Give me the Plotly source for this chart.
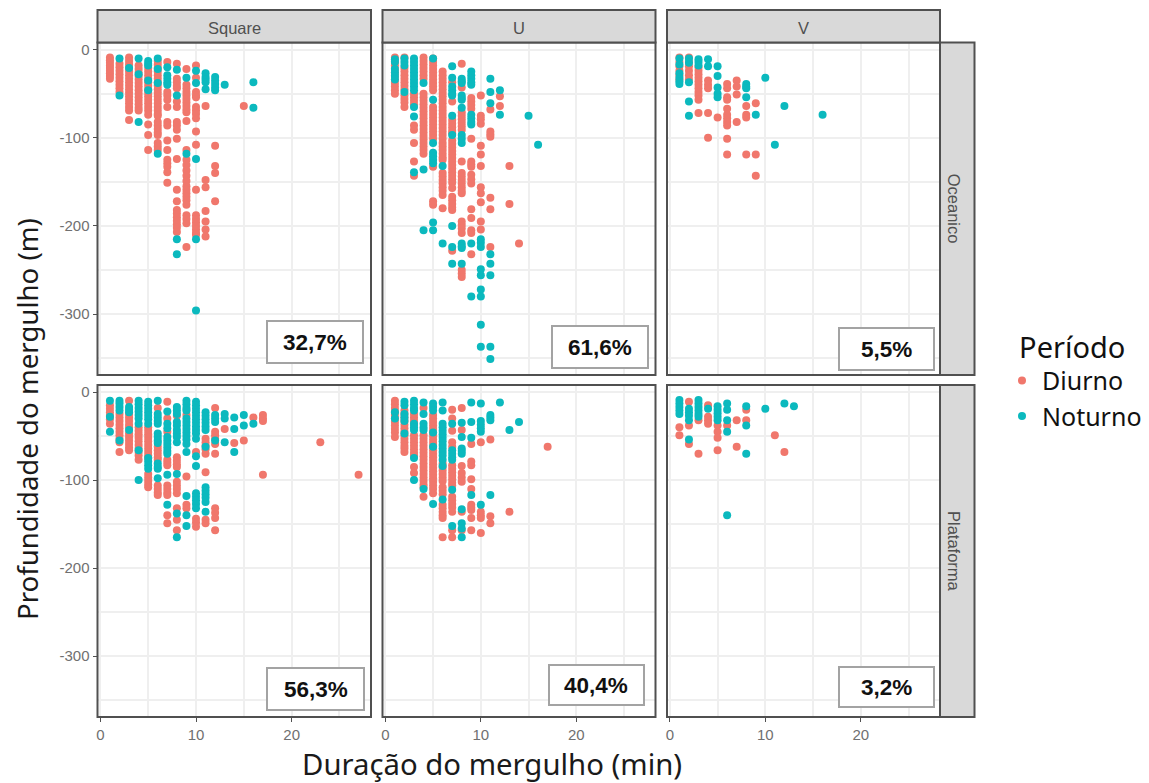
import plotly.graph_objects as go

W, H = 1149, 783
COLS = ["Square", "U", "V"]
ROWS = ["Oceanico", "Plataforma"]
PERCENT = [["32,7%", "61,6%", "5,5%"], ["56,3%", "40,4%", "3,2%"]]
Y_TICKS = [0, -100, -200, -300]
Y_TICK_TEXT = ["0", "-100", "-200", "-300"]
X_TICKS = [0, 10, 20]
X_TICK_TEXT = ["0", "10", "20"]
C_DIURNO = "#F0776C"
C_NOTURNO = "#0BB9BE"

# duration (min) -> depths (m)
SQ_OCE_D = {
 1: [-9,-12,-15,-18,-21,-24,-27,-30,-33],
 2: [-16,-20,-24,-28,-32,-36,-40,-44,-48],
 3: [-9,-13,-17,-21,-25,-29,-33,-37,-41,-45,-49,-53,-57,-61,-65,-69,-80],
 4: [-18,-22,-26,-30,-34,-38,-42,-46,-50,-54,-58,-62,-66,-69],
 5: [-21,-25,-29,-33,-37,-41,-45,-49,-53,-57,-61,-65,-69,-74,-85,-97,-114],
 6: [-13,-17,-21,-25,-29,-33,-37,-41,-45,-49,-53,-57,-61,-65,-69,-73,-75,-82,-86,-90,-94,-97,-106,-110,-114],
 7: [-14,-48,-52,-57,-65,-82,-86,-103,-114,-125,-129,-133,-139,-151],
 8: [-16,-33,-37,-41,-44,-59,-65,-82,-86,-91,-101,-124,-159,-172,-182,-186,-190,-194,-198,-202,-207],
 9: [-22,-40,-44,-48,-52,-56,-60,-64,-68,-71,-81,-114,-125,-131,-137,-143,-149,-155,-159,-163,-167,-171,-176,-188,-192,-197,-224],
 10: [-18,-32,-48,-52,-54,-65,-69,-73,-78,-93,-108,-159,-188,-192,-196,-200,-204,-208,-210],
 11: [-64,-148,-156,-183,-195,-204,-212],
 12: [-109,-132,-140,-172],
 15: [-64],
}
SQ_OCE_N = {
 2: [-10,-52],
 3: [-21],
 4: [-10,-28,-82],
 5: [-13,-16,-18,-35,-46],
 6: [-10,-22,-38,-118],
 7: [-20,-29,-33,-37,-40],
 8: [-23,-52,-215,-232],
 9: [-32,-118],
 10: [-24,-38,-124,-215,-296],
 11: [-27,-31,-34,-37,-45],
 12: [-31,-35,-39,-43,-46],
 13: [-40],
 16: [-37,-66],
}
U_OCE_D = {
 1: [-9,-14,-18,-22,-26,-30,-34,-38,-42,-46,-50],
 2: [-9,-21,-25,-29,-33,-37,-41,-45,-52,-56,-60,-65],
 3: [-50,-54,-58,-62,-86,-91,-106,-127,-143],
 4: [-9,-13,-17,-21,-25,-29,-33,-50,-54,-58,-62,-66,-70,-74,-78,-82,-86,-90,-94,-98,-102,-106,-110,-114,-118],
 5: [-10,-14,-18,-22,-26,-30,-34,-38,-42,-46,-65,-69,-73,-77,-81,-85,-89,-93,-97,-101,-133,-172,-176],
 6: [-25,-29,-33,-37,-41,-45,-49,-53,-57,-61,-65,-69,-73,-77,-81,-85,-89,-93,-97,-101,-106,-110,-114,-118,-122,-125,-140,-144,-148,-152,-156,-160,-165,-180],
 7: [-37,-59,-80,-84,-88,-92,-95,-103,-107,-111,-115,-119,-123,-127,-131,-135,-139,-143,-147,-151,-157,-167,-171,-175,-179,-182,-228],
 8: [-16,-43,-71,-75,-79,-83,-87,-91,-127,-140,-144,-148,-152,-156,-160,-163,-195,-199,-203,-208,-250,-254,-258],
 9: [-55,-59,-63,-67,-101,-127,-130,-133,-142,-147,-152,-181,-191,-205,-208,-232],
 10: [-52,-75,-79,-84,-109,-119,-132,-156,-163,-173,-195,-204],
 11: [-68,-93,-96,-99,-168,-181,-224],
 12: [-53,-64],
 13: [-132,-175],
 14: [-220],
}
U_OCE_N = {
 1: [-11,-14,-22,-26,-30,-34],
 2: [-10,-14,-18,-48],
 3: [-10,-14,-18,-22,-26,-30,-34,-38,-42,-46,-65,-76,-139],
 4: [-38,-136,-205],
 5: [-10,-57,-106,-117,-121,-125,-129,-196,-205],
 6: [-132,-220],
 7: [-19,-32,-42,-46,-50,-52,-75,-97,-200,-224,-243],
 8: [-33,-36,-38,-52,-55,-57,-66,-97,-101,-106,-220,-223,-225,-243],
 9: [-25,-29,-33,-37,-40,-74,-78,-82,-85,-220,-280],
 10: [-215,-219,-224,-249,-256,-272,-280,-312,-337],
 11: [-33,-48,-61,-232,-243,-256,-337,-351],
 12: [-46,-74],
 15: [-75],
 16: [-108],
}
V_OCE_D = {
 1: [-9,-14,-19,-24,-29,-34],
 2: [-9,-14,-19,-24,-29,-34],
 3: [-20,-24,-28,-32,-36,-40,-44,-48,-52,-57,-72],
 4: [-35,-40,-44,-72,-100],
 5: [-77],
 6: [-39,-44,-54,-57,-67,-74,-78,-82,-86,-101,-119],
 7: [-35,-42,-51,-82],
 8: [-64,-74,-77,-119],
 9: [-61,-119,-143],
}
V_OCE_N = {
 1: [-10,-17,-27,-32,-36,-39],
 2: [-10,-15,-37,-59,-75],
 3: [-11,-14,-18],
 4: [-11,-19],
 5: [-19,-30,-43,-50,-54],
 8: [-39,-42,-44,-54],
 9: [-74],
 10: [-32],
 11: [-108],
 12: [-64],
 16: [-74],
}
SQ_PLA_D = {
 1: [-15,-19,-23,-27,-31,-36],
 2: [-25,-29,-33,-37,-41,-45,-49,-53,-57,-68],
 3: [-10,-25,-29,-33,-37,-40,-47,-51,-55,-59,-63,-66],
 4: [-40,-44,-48,-52,-56,-60,-64,-68,-72,-77],
 5: [-40,-44,-48,-52,-56,-60,-64,-68,-72,-75,-93,-97,-101,-105,-108],
 6: [-18,-62,-66,-70,-74,-77,-106,-110,-114,-117],
 7: [-11,-30,-45,-77,-80,-83,-106,-110,-114,-117,-140,-149],
 8: [-27,-74,-78,-82,-85,-102,-106,-110,-115,-132,-145,-157],
 9: [-26,-96,-128,-132],
 10: [-68,-144,-148,-153],
 11: [-53,-57,-61,-65,-70,-91,-145,-149],
 12: [-18,-45,-49,-53,-59,-70,-132,-137,-143,-157],
 13: [-42],
 14: [-58],
 15: [-55],
 16: [-29],
 17: [-26,-30,-33,-94],
 23: [-57],
 27: [-94],
}
SQ_PLA_N = {
 1: [-10,-28,-45],
 2: [-10,-13,-17,-21,-55],
 3: [-17,-20,-23,-43],
 4: [-10,-14,-18,-22,-26,-30,-36,-66,-100],
 5: [-11,-15,-19,-23,-27,-31,-36,-75,-79,-83,-87],
 6: [-10,-25,-29,-33,-36,-47,-51,-55,-58,-81,-85,-87,-98],
 7: [-22,-36,-41,-51,-55,-59,-63,-67,-70,-94,-128],
 8: [-17,-21,-25,-34,-38,-43,-47,-51,-57,-93,-138,-165],
 9: [-10,-14,-18,-21,-30,-34,-38,-42,-46,-50,-54,-59,-68,-118,-140,-152],
 10: [-11,-15,-19,-23,-27,-31,-35,-39,-43,-47,-53,-73,-84,-115,-119,-123,-127,-132],
 11: [-23,-27,-31,-35,-39,-43,-62,-108,-112,-116,-120,-125,-136],
 12: [-26,-30,-34,-55],
 13: [-25,-30,-57],
 14: [-29,-42,-68],
 15: [-26,-38],
 16: [-36],
}
U_PLA_D = {
 1: [-10,-14,-18,-22,-26,-30,-34,-38,-42,-46,-51],
 2: [-21,-25,-29,-33,-37,-41,-45,-49,-53,-57,-61,-64,-68],
 3: [-25,-29,-33,-37,-49,-53,-57,-61,-65,-69,-72,-85,-92],
 4: [-18,-49,-53,-57,-61,-65,-69,-73,-77,-81,-85,-89,-93,-97,-101,-105,-108,-119],
 5: [-26,-30,-34,-38,-42,-46,-50,-54,-58,-62,-66,-70,-74,-78,-82,-86,-90,-94,-98,-102,-106,-110,-115],
 6: [-81,-85,-89,-93,-97,-101,-108,-112,-116,-128,-132,-136,-140,-143,-165],
 7: [-20,-30,-44,-57,-62,-83,-87,-91,-95,-99,-103,-106,-119,-123,-127,-131,-136,-157,-165],
 8: [-18,-43,-84,-92,-97,-102,-136,-157],
 9: [-59,-79,-83,-99,-110,-128,-131,-134,-143,-157],
 10: [-57,-136,-140,-143,-160],
 11: [-54,-141,-149],
 13: [-136],
 17: [-62],
}
U_PLA_N = {
 1: [-23,-30],
 2: [-11,-15,-25,-29,-33,-47],
 3: [-10,-14,-18,-21,-36,-40,-43,-75,-100],
 4: [-12,-25,-36,-40,-43,-110],
 5: [-13,-17,-21,-46,-62,-127],
 6: [-12,-21,-36,-40,-44,-48,-52,-56,-60,-64,-68,-72,-77,-84,-122],
 7: [-36,-66,-70,-74,-77,-111,-152],
 8: [-35,-51,-64,-67,-70,-133,-149,-155,-165],
 9: [-12,-34,-52,-117],
 10: [-13,-33,-37,-41,-45,-128],
 11: [-26,-29,-32,-117],
 12: [-12],
 13: [-43],
 14: [-34],
}
V_PLA_D = {
 1: [-40,-49],
 2: [-11,-38,-59],
 3: [-32,-70],
 4: [-15,-28,-32,-36],
 5: [-38,-45,-52,-66],
 6: [-38],
 7: [-32,-62],
 8: [-20,-32],
 11: [-49],
 12: [-68],
}
V_PLA_N = {
 1: [-9,-13,-17,-21,-25],
 2: [-19,-23,-27,-32,-54],
 3: [-9,-13,-17,-21,-25,-28],
 4: [-19],
 5: [-16,-20,-24,-28,-32],
 6: [-13,-20,-32,-45,-140],
 8: [-16,-38,-70],
 10: [-19],
 12: [-13],
 13: [-16],
}
PANELS = [[(SQ_OCE_D, SQ_OCE_N), (U_OCE_D, U_OCE_N), (V_OCE_D, V_OCE_N)],
          [(SQ_PLA_D, SQ_PLA_N), (U_PLA_D, U_PLA_N), (V_PLA_D, V_PLA_N)]]

def fx(p): return p / W
def fy(p): return 1 - p / H

COL_PX = [(97.5, 371), (382.5, 655.5), (667, 940)]
ROW_PX = [(42.5, 375), (385, 717)]
BOX_PX = [[(267, 363, 321, 363), (552, 648, 326, 368), (839, 934, 328, 370)],
          [(267, 364, 668, 710), (549, 644, 665, 705), (839, 934, 667, 707)]]
GRID = "#EFEFEF"
BORDER = "#505050"
TICK_COL = "#707070"

fig = go.Figure()
layout = dict(
    width=W, height=H, autosize=False, margin=dict(l=0, r=0, t=0, b=0, autoexpand=False),
    paper_bgcolor="white", plot_bgcolor="white",
    font=dict(family="Liberation Sans, Arial, sans-serif", color="#333333"),
)
shapes, annots = [], []
for r in range(2):
    for c in range(3):
        idx = r * 3 + c + 1
        sfx = "" if idx == 1 else str(idx)
        d, n = PANELS[r][c]
        for series, name, col in ((d, "Diurno", C_DIURNO), (n, "Noturno", C_NOTURNO)):
            xs = [k for k, v in series.items() for _ in v]
            ys = [y for v in series.values() for y in v]
            fig.add_trace(go.Scatter(
                x=xs, y=ys, mode="markers", name=name, legendgroup=name,
                showlegend=idx == 1, xaxis="x" + sfx, yaxis="y" + sfx,
                marker=dict(color=col, size=8, line=dict(width=0))))
        layout["xaxis" + sfx] = dict(
            domain=[fx(COL_PX[c][0]), fx(COL_PX[c][1])], range=[-0.3, 28.3],
            anchor="y" + sfx, tickvals=X_TICKS, ticktext=X_TICK_TEXT,
            showticklabels=r == 1, ticks="outside" if r == 1 else "", ticklen=4, tickcolor=BORDER,
            tickfont=dict(size=15, color=TICK_COL), showgrid=True, gridcolor=GRID, gridwidth=1.5,
            minor=dict(dtick=5, tick0=0, showgrid=True, gridcolor=GRID, gridwidth=1.5, ticks=""),
            zeroline=False, showline=False, fixedrange=True)
        layout["yaxis" + sfx] = dict(
            domain=[fy(ROW_PX[r][1]), fy(ROW_PX[r][0])], range=[-369, 8],
            anchor="x" + sfx, tickvals=Y_TICKS, ticktext=Y_TICK_TEXT,
            showticklabels=c == 0, ticks="outside" if c == 0 else "", ticklen=4, tickcolor=BORDER,
            tickfont=dict(size=15, color=TICK_COL), showgrid=True, gridcolor=GRID, gridwidth=1.5,
            minor=dict(dtick=50, tick0=0, showgrid=True, gridcolor=GRID, gridwidth=1.5, ticks=""),
            zeroline=False, showline=False, fixedrange=True)
        shapes.append(dict(type="rect", xref="paper", yref="paper", layer="above",
                           x0=fx(COL_PX[c][0]), x1=fx(COL_PX[c][1]), y0=fy(ROW_PX[r][1]), y1=fy(ROW_PX[r][0]),
                           line=dict(color=BORDER, width=2)))
        bx0, bx1, by0, by1 = BOX_PX[r][c]
        shapes.append(dict(type="rect", xref="paper", yref="paper", layer="above",
                           x0=fx(bx0), x1=fx(bx1), y0=fy(by1), y1=fy(by0),
                           fillcolor="white", line=dict(color="#A3A3A3", width=2)))
        annots.append(dict(text="<b>%s</b>" % PERCENT[r][c], xref="paper", yref="paper",
                           x=fx((bx0 + bx1) / 2), y=fy((by0 + by1) / 2),
                           xanchor="center", yanchor="middle", showarrow=False,
                           font=dict(size=22.5, color="#111111")))

for c, name in enumerate(COLS):
    shapes.append(dict(type="rect", xref="paper", yref="paper", layer="above",
                       x0=fx(COL_PX[c][0]), x1=fx(COL_PX[c][1]), y0=fy(42.5), y1=fy(10),
                       fillcolor="#D9D9D9", line=dict(color=BORDER, width=2)))
    annots.append(dict(text=name, xref="paper", yref="paper",
                       x=fx(sum(COL_PX[c]) / 2), y=fy(28), xanchor="center", yanchor="middle",
                       showarrow=False, font=dict(size=16.5, color="#505050")))
for r, name in enumerate(ROWS):
    shapes.append(dict(type="rect", xref="paper", yref="paper", layer="above",
                       x0=fx(940), x1=fx(974.5), y0=fy(ROW_PX[r][1]), y1=fy(ROW_PX[r][0]),
                       fillcolor="#D9D9D9", line=dict(color=BORDER, width=2)))
    annots.append(dict(text=name, xref="paper", yref="paper", textangle=90,
                       x=fx(954), y=fy(sum(ROW_PX[r]) / 2),
                       xanchor="center", yanchor="middle", showarrow=False,
                       font=dict(size=16.5, color="#505050")))

TITLE_FONT = "Noto Sans, Open Sans, sans-serif"
annots.append(dict(text="Duração do mergulho (min)", xref="paper", yref="paper",
                   x=fx(492), y=fy(764), xanchor="center", yanchor="middle", showarrow=False,
                   font=dict(size=29.3, color="#1A1A1A", family=TITLE_FONT)))
annots.append(dict(text="Profundidade do mergulho (m)", xref="paper", yref="paper", textangle=-90,
                   x=fx(27), y=fy(419), xanchor="center", yanchor="middle", showarrow=False,
                   font=dict(size=27.6, color="#1A1A1A", family=TITLE_FONT)))

layout["shapes"] = shapes
layout["annotations"] = annots
layout["legend"] = dict(
    x=fx(1002), y=fy(320), xanchor="left", yanchor="top", bgcolor="rgba(0,0,0,0)",
    title=dict(text="&nbsp;&nbsp;Período", font=dict(size=29, color="#111111", family=TITLE_FONT)),
    font=dict(size=25, color="#111111", family=TITLE_FONT), itemsizing="trace", itemwidth=30,
    tracegroupgap=0)
fig.update_layout(**layout)
fig.write_html("out.html", default_width="1149px", default_height="783px",
               config=dict(displayModeBar=False),
               post_script="document.body.style.margin='0';")
